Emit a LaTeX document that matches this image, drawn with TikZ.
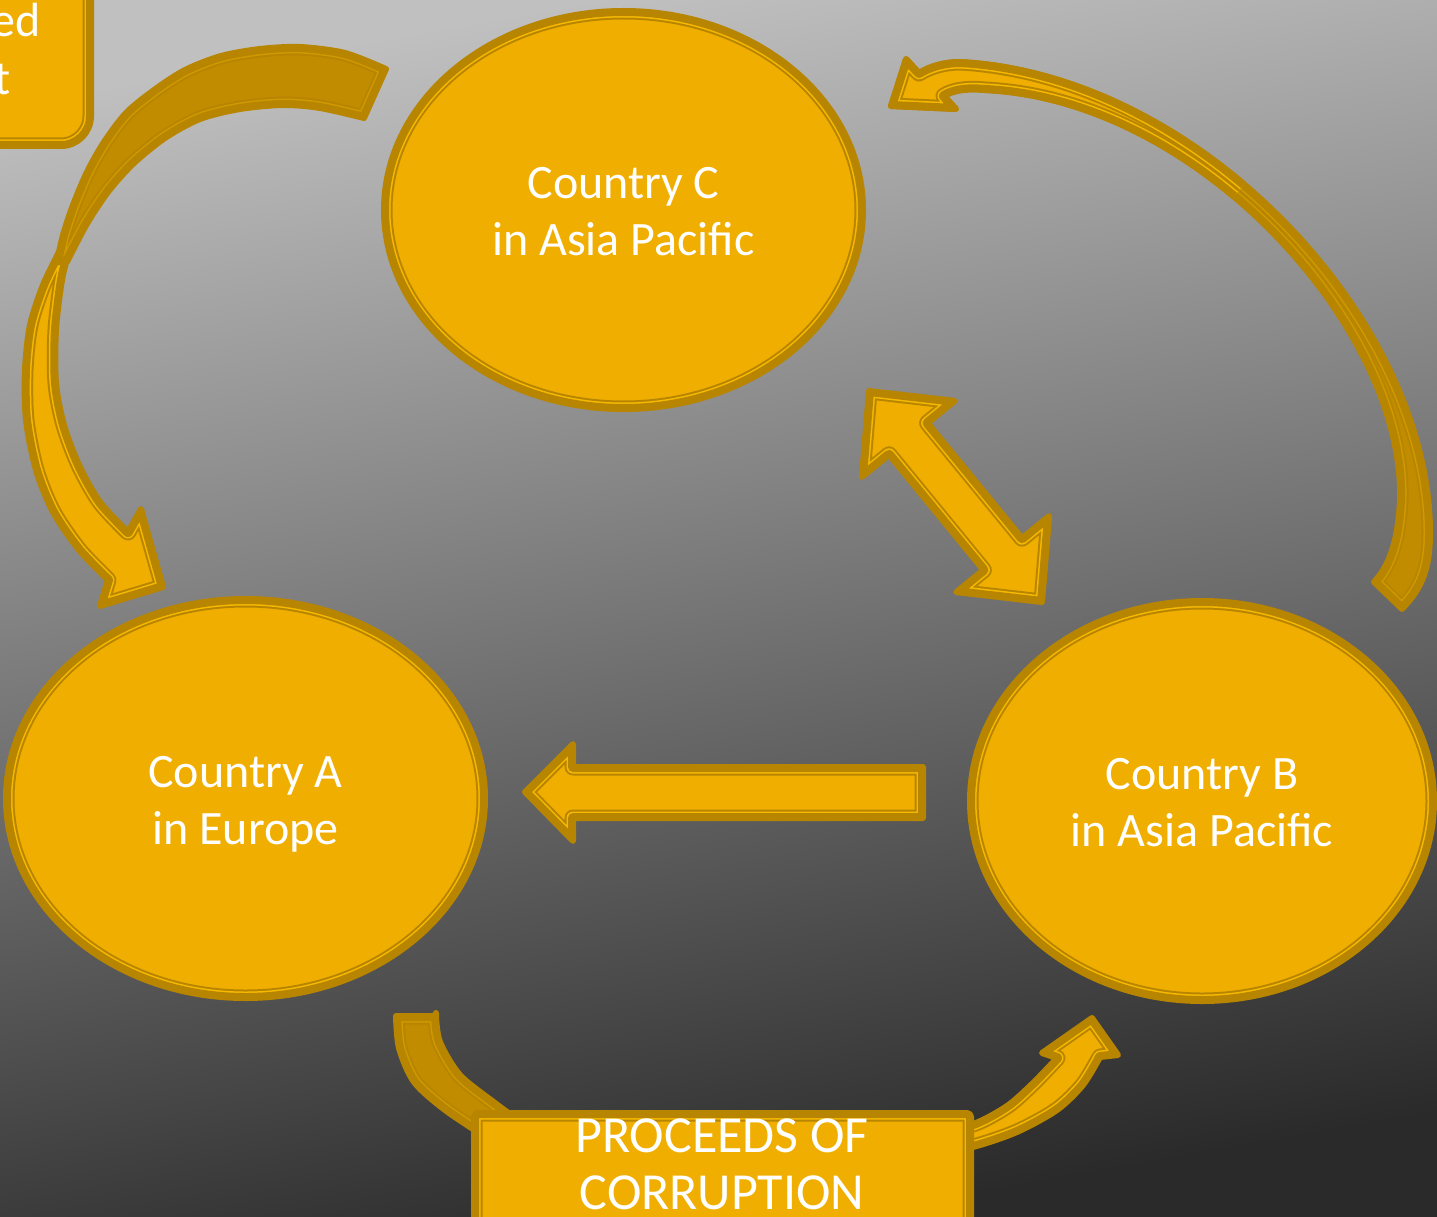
\documentclass[tikz,border=0pt]{standalone}
\usepackage{fontspec}
\setmainfont{Carlito}
\definecolor{gold}{HTML}{F0AE00}
\definecolor{goldlt}{HTML}{F7B900}
\definecolor{golddk}{HTML}{B88500}
\definecolor{goldbk}{HTML}{C28C00}
\definecolor{goldbklt}{HTML}{CF9900}
\definecolor{bgtop}{HTML}{C0C0C0}
\definecolor{bgbot}{HTML}{2A2A2A}
\newcommand\goldshape[3]{%
  \fill[#1] #3;
  \begin{scope}
    \clip #3;
    \draw[golddk, line width=17pt] #3;
    \draw[#2, line width=13pt] #3;
    \draw[golddk, line width=10pt] #3;
  \end{scope}
  \draw[golddk, line width=6pt] #3;
}
\newcommand\arrowBpath{(1402,609) -- (1374,582) .. controls (1390,565) and (1398,540) .. (1400,500) .. controls (1405,330) and (1200,100) .. (985,90) .. controls (965,88) and (952,91) .. (944,96) -- (956,109) -- (891,106) -- (906,59) -- (919,73) .. controls (930,66) and (945,62) .. (960,62) .. controls (1200,75) and (1430,320) .. (1430,533) .. controls (1430,575) and (1418,592) .. (1402,609) -- cycle}
\tikzset{
  lbl/.style={text=white, font=\fontsize{48}{57}\selectfont, align=center, inner sep=0pt},
  lblb/.style={text=white, font=\fontsize{52}{57}\selectfont, align=center, inner sep=0pt}
}
\begin{document}
\begin{tikzpicture}[x=1pt, y=-1pt, line join=round, line cap=round]
\shade[top color=bgtop, bottom color=bgbot, shading angle=10] (0,0) rectangle (1437,1217);
\useasboundingbox (0,0) rectangle (1437,1217);
\clip (0,0) rectangle (1437,1217);

% top-left box (cut off)
\goldshape{gold}{goldlt}{[rounded corners=30pt] (-60,-60) rectangle (91,146)}
\node[lbl, anchor=base east] (tl1) at (41,37) {ed};
\node[lbl, anchor=base east] (tl2) at (11,95) {t};

% arrow 1 (C -> A), front part
\goldshape{gold}{goldlt}{(60,250) -- plot[smooth] coordinates {(60,250) (43,285) (30,325) (25,370) (26,420) (36,470) (53,512) (79,550) (108,580)} -- (100,606) -- (163,587) -- (141,509) -- (128,532) -- plot[smooth] coordinates {(128,532) (100,502) (79,465) (64,425) (56,383) (56,330) (62,280) (69,252)} -- cycle}
% arrow 1, back part
\goldshape{goldbk}{goldbklt}{(386,69) -- (364,118) -- plot[smooth] coordinates {(364,118) (320,108) (283,105) (240,109) (200,119) (165,138) (133,164) (108,192) (88,222) (73,250) (67,262)} -- (57,262) -- plot[smooth] coordinates {(57,262) (63,235) (73,205) (87,172) (104,142) (126,113) (154,90) (185,70) (221,56) (260,49) (300,47) (345,53) (386,69)} -- cycle}

% arrow 2 (B -> C): back side everywhere, front side near the head
\goldshape{goldbk}{goldbklt}{\arrowBpath}
\begin{scope}
  \clip (850,0) -- (1402,0) -- (1160,283) -- (850,283) -- cycle;
  \goldshape{gold}{goldlt}{\arrowBpath}
\end{scope}

% arrow 3 (A -> B), back part
\goldshape{goldbk}{goldbklt}{[rounded corners=3pt] (396,1016) -- (436,1016) [sharp corners] -- plot[smooth] coordinates {(436,1016) (440,1042) (460,1075) (495,1103) (525,1125)} -- (490,1140) -- plot[smooth] coordinates {(490,1140) (445,1110) (414,1082) (399,1048) (396,1016)} -- cycle}
% arrow 3, front part
\goldshape{gold}{goldlt}{(940,1128) -- plot[smooth] coordinates {(940,1128) (973,1124) (1007,1106) (1033,1083) (1057,1058)} -- (1042,1053) -- (1092,1018) -- (1118,1055) -- (1100,1057) -- plot[smooth] coordinates {(1100,1057) (1083,1085) (1057,1110) (1017,1132) (973,1147) (940,1152)} -- cycle}

% box
\goldshape{gold}{goldlt}{[rounded corners=4pt] (474,1113) rectangle (971,1240)}
\node[lblb] (pc) at (722,1164) {PROCEEDS OF\\CORRUPTION};

% straight arrow B -> A
\goldshape{gold}{goldlt}{(525,792) -- (573,744) -- (573,767) -- (923,767) -- (923,818) -- (573,818) -- (573,841) -- cycle}
% double arrow C <-> B
\goldshape{gold}{goldlt}{(869,391) -- (954.7,400.9) -- (927.6,423.0) -- (1022.0,538.2) -- (1049.1,516.1) -- (1042,602) -- (956.3,592.1) -- (983.4,570.0) -- (889.0,454.8) -- (861.9,476.9) -- cycle}

% ellipses
\goldshape{gold}{goldlt}{(623.5,210) ellipse [x radius=239.5pt, y radius=199pt]}
\goldshape{gold}{goldlt}{(245.5,798.5) ellipse [x radius=239.5pt, y radius=199.5pt]}
\goldshape{gold}{goldlt}{(1202,801) ellipse [x radius=232pt, y radius=200pt]}

\node[lbl] (cc) at (623.5,212) {Country C\\in Asia Pacific};
\node[lbl] (ca) at (245.5,804) {Country A\\in Europe};
\node[lbl] (cb) at (1202,803) {Country B\\in Asia Pacific};
\end{tikzpicture}
\end{document}
